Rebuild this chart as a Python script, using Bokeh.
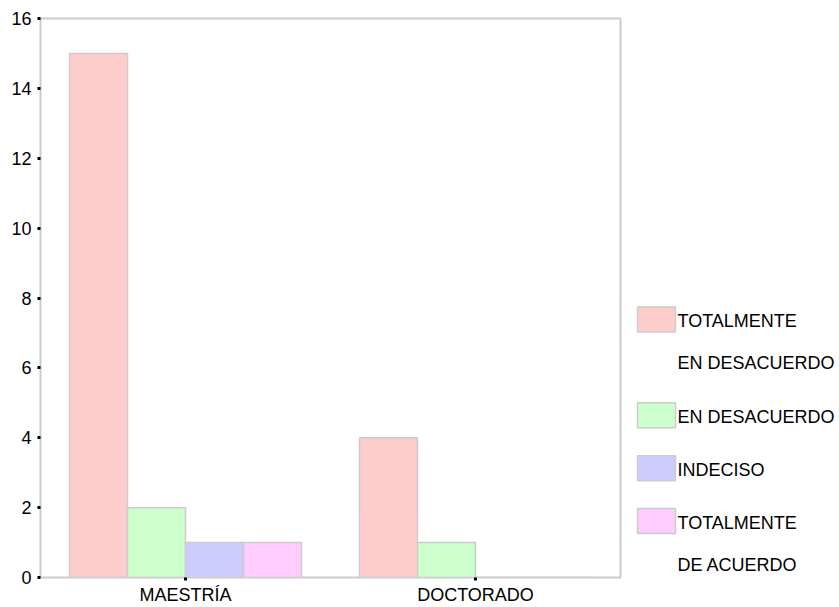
from bokeh.plotting import figure
from bokeh.models import FactorRange, Range1d, ColumnDataSource, FixedTicker
from bokeh.transform import dodge
from bokeh.layouts import row
from bokeh.core.properties import value
from bokeh.embed import file_html
from bokeh.resources import INLINE

# ---- data ----
categories = ["MAESTRÍA", "DOCTORADO"]
series_names = ["TOTALMENTE EN DESACUERDO", "EN DESACUERDO", "INDECISO", "TOTALMENTE DE ACUERDO"]
legend_labels = ["TOTALMENTE\nEN DESACUERDO", "EN DESACUERDO", "INDECISO", "TOTALMENTE\nDE ACUERDO"]
totalmente_en_desacuerdo = [15, 4]
en_desacuerdo = [2, 1]
indeciso = [1, 0]
totalmente_de_acuerdo = [1, 0]
y_ticks = [0, 2, 4, 6, 8, 10, 12, 14, 16]

colors = ["#ffcccc", "#ccffcc", "#ccccff", "#ffccff"]
border = "#cccccc"
FONT = "Liberation Sans"

series_values = [totalmente_en_desacuerdo, en_desacuerdo, indeciso, totalmente_de_acuerdo]
keys = ["s0", "s1", "s2", "s3"]
data = {"cat": categories}
for k, v in zip(keys, series_values):
    data[k] = v
source = ColumnDataSource(data)

H = 607
TOP, BOTTOM = 18, 29
p = figure(x_range=FactorRange(*categories, range_padding=0), y_range=Range1d(0, 16),
           width=625, height=H, output_backend="svg", toolbar_location=None,
           min_border_left=40, min_border_right=5, min_border_top=TOP, min_border_bottom=BOTTOM)

bw = 0.2
offsets = [-0.3, -0.1, 0.1, 0.3]
for k, off, c in zip(keys, offsets, colors):
    p.vbar(x=dodge("cat", off, range=p.x_range), top=k, width=bw, source=source,
           fill_color=c, line_color=border, line_width=1.5)

p.xgrid.visible = False
p.ygrid.visible = False
p.outline_line_color = border
p.outline_line_width = 2
p.background_fill_color = "white"
p.border_fill_color = "white"

for ax in (p.xaxis[0], p.yaxis[0]):
    ax.axis_line_color = None
    ax.major_tick_line_color = "black"
    ax.major_tick_line_width = 3
    ax.major_tick_out = 3
    ax.major_tick_in = 0
    ax.minor_tick_line_color = None
    ax.major_label_text_font = FONT
    ax.major_label_text_color = "black"
    ax.major_label_text_font_size = "18px"

p.yaxis[0].ticker = FixedTicker(ticks=y_ticks)
p.yaxis[0].major_label_standoff = 6
p.xaxis[0].major_label_standoff = 4

# ---- legend (separate panel; frame aligned with main plot frame) ----
LW = 214
lg = figure(width=LW, height=H, x_range=Range1d(0, LW), y_range=Range1d(H - BOTTOM, TOP),
            output_backend="svg", toolbar_location=None,
            x_axis_location=None, y_axis_location=None,
            min_border=0, min_border_left=0, min_border_right=0,
            min_border_top=TOP, min_border_bottom=BOTTOM)
lg.grid.visible = False
lg.outline_line_color = None
lg.background_fill_color = "white"
lg.border_fill_color = "white"

sw_left, sw_w, sw_h = 12, 38, 25
text_x = 52
top = 307
rx, ry, rc = [], [], []
tx, ty, tt = [], [], []
for lab, c in zip(legend_labels, colors):
    lines = lab.split("\n")
    rx.append(sw_left + sw_w / 2)
    ry.append(top + sw_h / 2)
    rc.append(c)
    for j, ln in enumerate(lines):
        tx.append(text_x)
        ty.append(top + 14 + 42 * j)
        tt.append(ln)
    top += 53 + 43 * (len(lines) - 1)

lg.rect(x=rx, y=ry, width=sw_w, height=sw_h, fill_color=rc, line_color=border, line_width=1.5)
lg.text(x=tx, y=ty, text=tt, text_font=value(FONT), text_font_size="18px",
        text_baseline="middle", text_align="left", text_color="black")

layout = row(p, lg, spacing=0)
open("out.html", "w").write(file_html(layout, INLINE))
